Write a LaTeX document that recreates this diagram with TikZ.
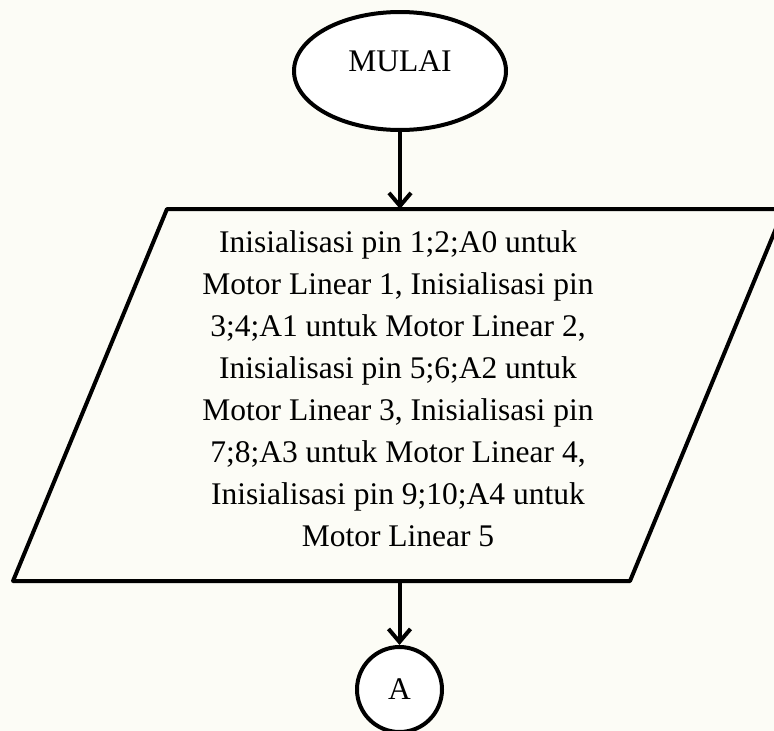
\documentclass[tikz,border=0pt]{standalone}
\usepackage{fontspec}
\setmainfont{Liberation Serif}
\usetikzlibrary{arrows.meta,shapes.geometric}
\definecolor{bgcream}{RGB}{252,252,246}
\begin{document}
\begin{tikzpicture}[x=1pt,y=-1pt,
  shapeline/.style={draw=black,line width=4pt,line join=round},
  flowline/.style={draw=black,line width=4pt,-{Straight Barb[length=13pt,width=22pt]}},
  txt/.style={font=\fontsize{31.5}{42}\selectfont,inner sep=0pt,text=black},
  terminal/.style={shapeline,fill=white,ellipse,minimum width=212pt,minimum height=118pt,inner sep=0pt},
  connector/.style={shapeline,fill=white,circle,minimum size=85pt,inner sep=0pt,txt}
]
\useasboundingbox (0,0) rectangle (774,731);
\clip (0,0) rectangle (774,731);
\fill[bgcream] (0,0) rectangle (774,731);

% start terminal
\node[terminal] (mulai) at (400,71) {};
\node[txt,anchor=base] (mulaitxt) at (400,71.7) {MULAI};

% input/output parallelogram
\coordinate (pTL) at (167,209);
\coordinate (pTR) at (784,209);
\coordinate (pBR) at (630,581);
\coordinate (pBL) at (13,581);
\draw[shapeline] (pTL) -- (pTR) -- (pBR) -- (pBL) -- cycle;
\node[txt,align=center] (init) at (398,389) {Inisialisasi pin 1;2;A0 untuk\\
Motor Linear 1, Inisialisasi pin\\
3;4;A1 untuk Motor Linear 2,\\
Inisialisasi pin 5;6;A2 untuk\\
Motor Linear 3, Inisialisasi pin\\
7;8;A3 untuk Motor Linear 4,\\
Inisialisasi pin 9;10;A4 untuk\\
Motor Linear 5};
\coordinate (ptop) at (400,209);
\coordinate (pbot) at (399.5,581);

% off-page connector
\node[connector] (a) at (399.5,689.5) {A};

% connectors
\draw[flowline] (mulai.south) -- (ptop);
\draw[flowline] (pbot) -- (a.north);
\end{tikzpicture}
\end{document}
